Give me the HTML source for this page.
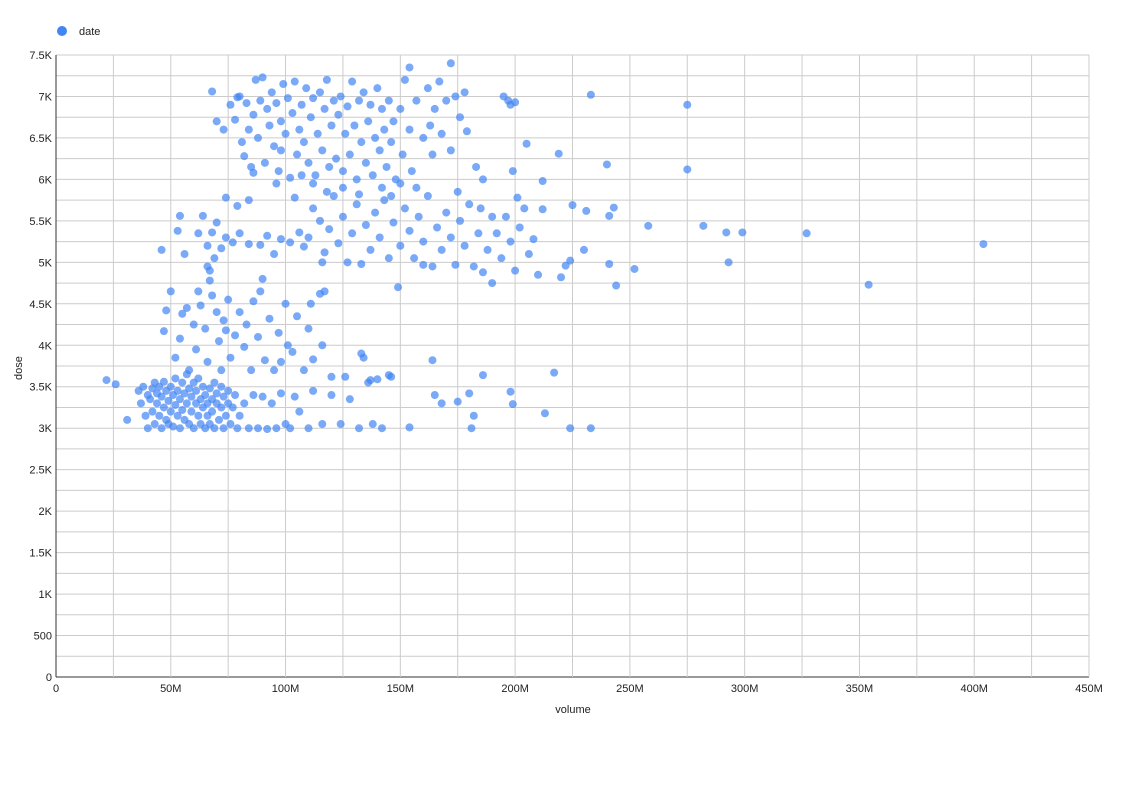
<!DOCTYPE html>
<html><head><meta charset="utf-8"><style>
body{margin:0;background:#fff;font-family:"Liberation Sans",Arial,sans-serif;}
svg text{font-family:"Liberation Sans",Arial,sans-serif;font-size:11px;fill:#222;}
</style></head><body>
<svg id="c" width="1134" height="795"></svg>
<script>
const xTicks=[0,50,100,150,200,250,300,350,400,450];
const xTickLabels=["0","50M","100M","150M","200M","250M","300M","350M","400M","450M"];
const yTicks=[0,500,1000,1500,2000,2500,3000,3500,4000,4500,5000,5500,6000,6500,7000,7500];
const yTickLabels=["0","500","1K","1.5K","2K","2.5K","3K","3.5K","4K","4.5K","5K","5.5K","6K","6.5K","7K","7.5K"];
const points=[
[36,3450],[37,3300],[38,3500],[39,3150],[40,3400],[40,3000],[41,3350],[42,3480],[42,3200],[43,3050],[43,3550],[44,3300],[44,3420],[45,3150],[45,3500],[46,3380],[46,3000],[47,3250],[47,3560],[48,3450],[48,3100],[49,3330],[49,3050],[50,3500],[50,3200],[51,3400],[51,3020],[52,3600],[52,3280],[53,3150],[53,3450],[54,3350],[54,3000],[55,3550],[55,3220],[56,3420],[56,3100],[57,3300],[57,3650],[58,3050],[58,3480],[59,3200],[59,3380],[60,3550],[60,3000],[61,3300],[61,3450],[62,3150],[62,3600],[63,3050],[63,3350],[64,3500],[64,3250],[65,3400],[65,3000],[66,3300],[66,3150],[67,3480],[67,3050],[68,3350],[68,3200],[69,3550],[69,3000],[70,3300],[70,3420],[71,3100],[72,3250],[72,3500],[73,3000],[73,3380],[74,3150],[75,3300],[75,3450],[76,3050],[77,3250],[78,3400],[79,3000],[80,3150],[82,3300],[84,3000],[86,3400],[88,3000],[90,3380],[92,2990],[94,3300],[96,3000],[98,3420],[100,3050],[102,3000],[104,3380],[106,3200],[110,3000],[112,3450],[116,3050],[120,3400],[124,3050],[128,3350],[132,3000],[136,3550],[138,3050],[142,3000],[146,3620],[154,3010],[165,3400],[168,3300],[175,3320],[180,3420],[182,3150],[181,3000],[186,3640],
[22,3580],[26,3530],[31,3100],[233,3000],[224,3000],[213,3180],[217,3670],[199,3290],[198,3440],
[48,4420],[47,4170],[50,4650],[52,3850],[54,4080],[55,4380],[57,4450],[58,3700],[60,4250],[61,3950],[62,4650],[63,4480],[65,4200],[66,3800],[67,4780],[68,4600],[70,4400],[71,4050],[72,3700],[73,4300],[74,4180],[75,4550],[76,3850],[78,4120],[80,4400],[82,3980],[83,4250],[85,3700],[86,4530],[88,4100],[89,4650],[90,4800],[91,3820],[93,4320],[95,3700],[97,4150],[100,4500],[101,4000],[103,3920],[105,4350],[108,3700],[110,4200],[111,4500],[112,3830],[115,4620],[117,4650],[120,3620],[126,3620],[133,3900],[134,3850],[137,3580],[140,3590],[145,3640],[164,3820],[116,4000],[98,3800],
[46,5150],[53,5380],[54,5560],[56,5100],[62,5350],[64,5560],[66,5200],[68,5360],[70,5480],[72,5170],[74,5300],[77,5240],[80,5350],[84,5220],[89,5210],[92,5320],[95,5100],[98,5280],[102,5240],[106,5360],[108,5190],[66,4950],[67,4900],[69,5050],[74,5780],[79,5680],
[68,7060],[70,6700],[73,6600],[76,6900],[78,6720],[79,6990],[80,7000],[81,6450],[82,6280],[83,6920],[84,6600],[85,6150],[86,6780],[87,7200],[88,6500],[89,6950],[90,7230],[91,6200],[92,6850],[93,6650],[94,7050],[95,6400],[96,6920],[97,6100],[98,6700],[99,7150],[100,6550],[101,6980],[102,6020],[103,6800],[104,7180],[105,6300],[106,6600],[107,6900],[108,6450],[109,7100],[110,6200],[111,6750],[112,6980],[113,6050],[114,6550],[115,7050],[116,6350],[117,6850],[118,7200],[119,6150],[120,6650],[121,6950],[122,6250],[123,6780],[124,7000],[125,6100],[126,6550],[127,6880],[128,6300],[129,7180],[130,6650],[131,6000],[132,6950],[133,6450],[134,7050],[135,6200],[136,6700],[137,6900],[138,6050],[139,6500],[140,7100],[141,6350],[142,6850],[143,6600],[144,6150],[145,6950],[146,6450],[147,6700],[148,6000],[150,6850],[151,6300],[152,7200],[154,6600],[155,6100],[157,6950],[160,6500],[162,7100],[163,6650],[164,6300],[165,6850],[167,7180],[168,6550],[170,6950],[172,6350],[174,7000],[176,6750],[178,7050],[179,6580],[183,6150],[186,6000],[195,7000],[197,6950],[198,6900],[96,5950],[98,6350],[104,5780],[107,6050],[112,5950],[118,5850],[125,5900],[132,5820],[142,5900],[150,5950],[86,6080],[84,5750],[172,7400],[154,7350],
[110,5300],[112,5650],[115,5500],[117,5120],[119,5400],[121,5800],[123,5230],[125,5550],[127,5000],[129,5350],[131,5700],[133,4980],[135,5450],[137,5150],[139,5600],[141,5300],[143,5750],[145,5050],[147,5480],[149,4700],[150,5200],[152,5650],[154,5380],[156,5050],[158,5550],[160,5250],[162,5800],[164,4950],[166,5420],[168,5150],[170,5600],[172,5300],[174,4970],[176,5500],[178,5200],[180,5700],[182,4950],[184,5350],[186,4880],[188,5150],[190,4750],[192,5350],[194,5050],[196,5550],[198,5250],[200,4900],[202,5420],[204,5650],[206,5100],[208,5280],[210,4850],[157,5900],[146,5800],[175,5850],[185,5650],[190,5550],[201,5780],[160,4970],[116,5000],
[275,6900],[275,6120],[233,7020],[404,5220],[354,4730],[327,5350],[299,5360],[293,5000],[292,5360],[282,5440],[258,5440],[252,4920],[244,4720],[243,5660],[241,5560],[240,6180],[241,4980],[230,5150],[231,5620],[225,5690],[224,5020],[222,4960],[220,4820],[212,5980],[212,5640],[219,6310],[205,6430],[200,6930],[199,6100]
];
const NS="http://www.w3.org/2000/svg";
const svg=document.getElementById('c');
const X0=56,X1=1089,Y0=677,Y1=55;
const sx=v=>X0+(v/450)*(X1-X0);
const sy=v=>Y0-(v/7500)*(Y0-Y1);
function mk(t,a){const e=document.createElementNS(NS,t);for(const k in a)e.setAttribute(k,a[k]);svg.appendChild(e);return e;}
// grid
for(let v=0;v<=7500;v+=250){const g=mk('line',{x1:X0,x2:X1,y1:sy(v),y2:sy(v),stroke:v===0?'#333':'#ccc','stroke-width':1});

}
for(let v=0;v<=450;v+=25){const g=mk('line',{x1:sx(v),x2:sx(v),y1:Y1,y2:Y0,stroke:v===0?'#333':'#ccc','stroke-width':1});

}
xTicks.forEach((v,i)=>{const t=mk('text',{x:sx(v),y:692,'text-anchor':'middle'});t.textContent=xTickLabels[i];

});
yTicks.forEach((v,i)=>{const t=mk('text',{x:52,y:sy(v)+4,'text-anchor':'end'});t.textContent=yTickLabels[i];

});
points.forEach(p=>{const c=mk('circle',{cx:sx(p[0]),cy:sy(p[1]),r:4,fill:'#4285f4','fill-opacity':0.7});

});
const xl=mk('text',{x:573,y:713,'text-anchor':'middle'});xl.textContent='volume';


const yl=mk('text',{x:22,y:368,'text-anchor':'middle',transform:'rotate(-90 22 368)'});yl.textContent='dose';


const ld=mk('circle',{cx:62,cy:31,r:5,fill:'#4285f4'});


const lt=mk('text',{x:79,y:35});lt.textContent='date';


</script>
</body></html>
